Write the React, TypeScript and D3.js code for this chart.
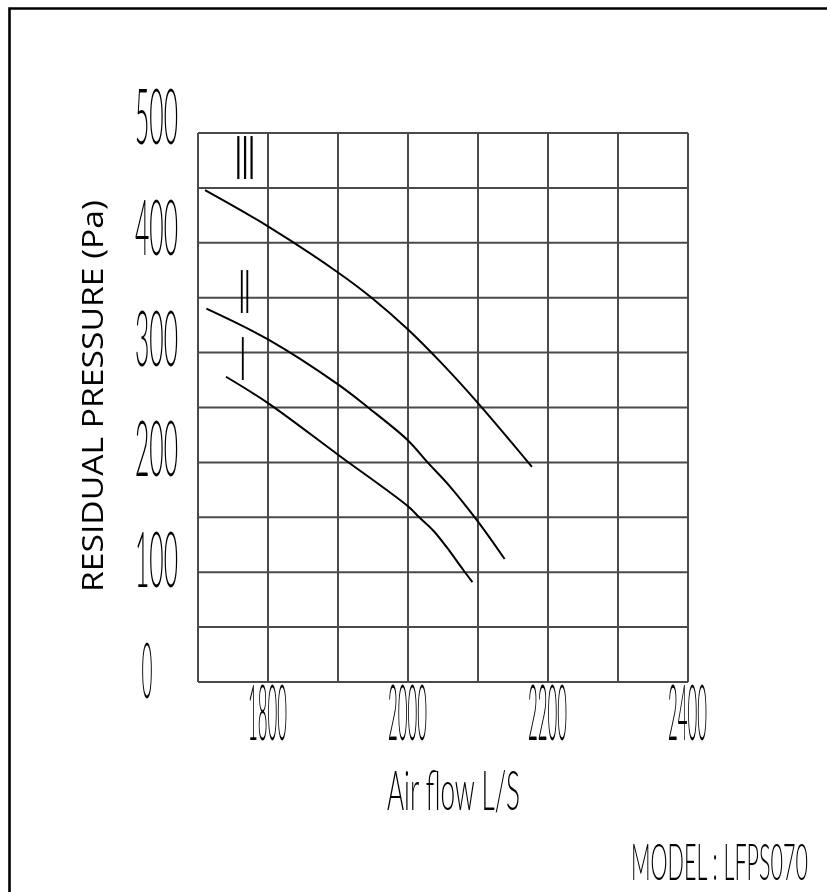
import React from "react";
import * as d3 from "d3";

const xTicks = [1800, 2000, 2200, 2400];
const yTicks = [0, 100, 200, 300, 400, 500];
const xGrid = [1700, 1800, 1900, 2000, 2100, 2200, 2300, 2400];
const yGrid = [0, 50, 100, 150, 200, 250, 300, 350, 400, 450, 500];

const curveIII: [number, number][] = [
  [1710, 448], [1800, 415], [1900, 373], [1948, 350], [2000, 321],
  [2050, 289], [2100, 254], [2177, 196],
];
const curveII: [number, number][] = [
  [1712, 340], [1800, 312], [1900, 271], [1943, 250],
  [2000, 220], [2028, 200], [2060, 178], [2100, 146], [2138, 112],
];
const curveI: [number, number][] = [
  [1740, 278], [1800, 254], [1900, 207], [2000, 160],
  [2016, 150], [2036, 138], [2055, 123], [2079, 102], [2092, 91],
];

const seriesLabels = [
  { text: "III", x: 1767.1, y: 458, width: 20 },
  { text: "II", x: 1766.4, y: 336, width: 11.2 },
  { text: "I", x: 1763.9, y: 275, width: 5.6 },
];

const CAD = "Lato, 'DejaVu Sans', sans-serif";

export default function App() {
  const x = d3.scaleLinear().domain([1700, 2400]).range([198, 688]);
  const y = d3.scaleLinear().domain([0, 500]).range([682, 133]);
  const line = d3
    .line<[number, number]>()
    .x((d) => x(d[0]))
    .y((d) => y(d[1]))
    .curve(d3.curveCatmullRom.alpha(0.5));

  return (
    <svg
      width={827}
      height={892}
      style={{ position: "absolute", left: 0, top: 0, background: "#fff" }}
    >
      <rect x={0} y={0} width={827} height={892} fill="#fff" />
      <path d="M9.5 900 V8.5 H840" fill="none" stroke="#000" strokeWidth={2.6} />

      {xGrid.map((v) => (
        <line key={"xg" + v} x1={x(v)} x2={x(v)} y1={y(0)} y2={y(500)} stroke="#4a4a4a" strokeWidth={2} />
      ))}
      {yGrid.map((v) => (
        <line key={"yg" + v} x1={x(1700)} x2={x(2400)} y1={y(v)} y2={y(v)} stroke="#4a4a4a" strokeWidth={2} />
      ))}

      {[curveIII, curveII, curveI].map((c, i) => (
        <path key={"c" + i} d={line(c) || ""} fill="none" stroke="#000" strokeWidth={2} />
      ))}

      <g opacity={0.995} fill="#000">
        {seriesLabels.map((l) => (
          <text
            key={l.text}
            x={x(l.x) - l.width / 2}
            y={y(l.y)}
            fontFamily="'DejaVu Sans', sans-serif"
            fontSize={58}
            textLength={l.width}
            lengthAdjust="spacingAndGlyphs"
          >
            {l.text}
          </text>
        ))}

        {yTicks.map((v) => {
          const s = String(v);
          return (
            <text
              key={"yt" + v}
              x={s.length === 1 ? 141.5 : 135}
              y={y(v) + 11 + (500 - v) / 100}
              fontFamily={CAD}
              fontWeight={300}
              fontSize={77}
              textLength={s.length === 1 ? 11 : 43}
              lengthAdjust="spacingAndGlyphs"
            >
              {s}
            </text>
          );
        })}

        {xTicks.map((v) => (
          <text
            key={"xt" + v}
            x={x(v) - 20}
            y={740}
            fontFamily={CAD}
            fontWeight={300}
            fontSize={77}
            textLength={39}
            lengthAdjust="spacingAndGlyphs"
          >
            {v}
          </text>
        ))}

        <text
          x={387}
          y={810}
          fontFamily={CAD}
          fontWeight={300}
          fontSize={55}
          textLength={133}
          lengthAdjust="spacingAndGlyphs"
        >
          Air flow L/S
        </text>

        <text
          x={631}
          y={880}
          fontFamily={CAD}
          fontWeight={300}
          fontSize={52}
          textLength={177}
          lengthAdjust="spacingAndGlyphs"
        >
          MODEL : LFPS070
        </text>

        <text
          transform="translate(103,592) rotate(-90)"
          fontFamily="'Open Sans', 'Noto Sans', sans-serif"
          fontSize={29}
          textLength={392}
          lengthAdjust="spacingAndGlyphs"
        >
          RESIDUAL PRESSURE (Pa)
        </text>
      </g>
    </svg>
  );
}
